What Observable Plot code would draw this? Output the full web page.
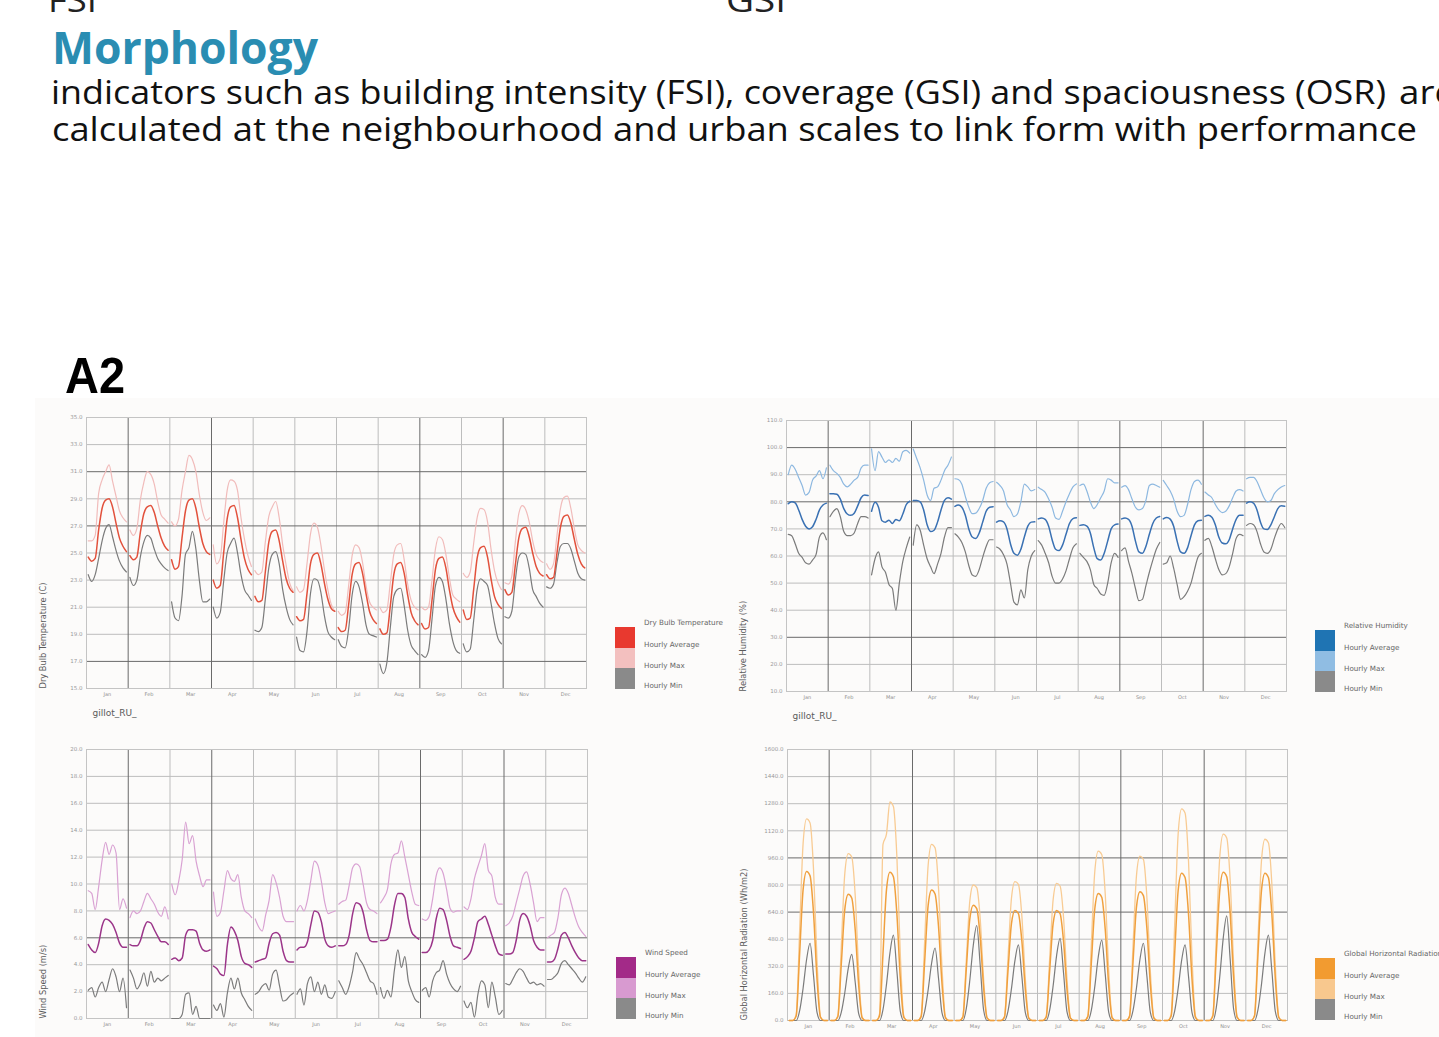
<!DOCTYPE html>
<html><head><meta charset="utf-8">
<script src="https://cdn.jsdelivr.net/npm/d3@7"></script>
<script src="https://cdn.jsdelivr.net/npm/@observablehq/plot@0.6"></script>
<style>
html,body{margin:0;padding:0;background:#fff}
#root{position:relative;width:1439px;height:1037px;overflow:hidden;background:#fff}
.abs{position:absolute}
.lg-sw{position:absolute;width:20px}
.lg-tx{position:absolute;font-family:"DejaVu Sans",sans-serif;font-size:7.2px;color:#666;white-space:nowrap;line-height:8px}
</style></head>
<body><div id="root"></div>
<script>
// ---------------- DATA ----------------
const MONTHS = ["Jan","Feb","Mar","Apr","May","Jun","Jul","Aug","Sep","Oct","Nov","Dec"];
const MONTH_EDGES = [0,1,2,3,4,5,6,7,8,9,10,11,12];
const DARK_MONTH_EDGES = [1,3,8,10];

const TEMP_TICKS = [15,17,19,21,23,25,27,29,31,33,35];
const TEMP_DARK = [31,27,17];
const HUM_TICKS = [10,20,30,40,50,60,70,80,90,100,110];
const HUM_DARK = [100,80,30];
const WIND_TICKS = [0,2,4,6,8,10,12,14,16,18,20];
const WIND_DARK = [6];
const RAD_TICKS = [0,160,320,480,640,800,960,1120,1280,1440,1600];
const RAD_DARK = [960,640];

// hourly profile per month (12 samples across each month)
const TEMP_AVG = [
 [24.7,24.4,24.6,26.7,28.3,28.9,29.0,28.4,27.2,26.1,25.5,25.1],
 [24.8,24.5,24.7,26.5,27.9,28.4,28.5,28.0,27.0,26.1,25.5,25.2],
 [24.5,23.8,24.0,26.1,28.1,28.9,29.0,28.3,26.9,25.7,25.1,24.9],
 [23.0,22.4,22.6,25.0,27.5,28.4,28.5,27.6,26.0,24.6,23.8,23.4],
 [21.8,21.4,21.5,23.6,25.8,26.6,26.7,25.9,24.4,23.1,22.4,22.1],
 [20.3,20.0,20.1,22.0,24.2,24.9,25.0,24.2,22.8,21.6,20.9,20.7],
 [19.5,19.2,19.3,21.2,23.4,24.2,24.3,23.5,22.0,20.7,20.1,19.8],
 [19.4,19.0,19.1,21.1,23.4,24.2,24.3,23.5,21.9,20.6,20.0,19.7],
 [19.8,19.4,19.5,21.5,23.8,24.6,24.7,23.9,22.3,21.0,20.3,19.9],
 [20.8,20.1,20.2,22.3,24.6,25.4,25.5,24.7,23.1,21.8,21.2,20.9],
 [22.3,21.9,22.1,24.1,26.1,26.8,26.9,26.2,25.0,24.0,23.5,23.3],
 [23.4,23.1,23.2,25.0,26.9,27.7,27.8,27.2,26.0,24.9,24.2,23.9]
];
const TEMP_MAX = [
 [25.9,25.9,26.3,29.4,30.4,31.0,31.5,30.3,29.2,28.1,27.6,27.3],
 [26.7,26.3,26.8,28.9,30.2,31.0,30.8,30.1,28.8,27.8,27.5,27.2],
 [27.3,27.0,27.5,29.6,31.0,32.2,31.9,31.0,29.3,28.0,27.4,27.6],
 [25.6,24.2,24.6,27.2,29.6,30.4,30.3,29.6,27.6,26.0,24.8,24.0],
 [23.7,23.4,23.6,25.8,27.7,28.4,28.8,27.6,25.6,24.1,22.8,22.2],
 [22.5,22.1,22.3,24.2,26.4,27.2,26.9,25.6,23.8,22.3,21.2,20.7],
 [20.7,20.4,20.6,22.6,24.8,25.6,25.4,24.3,22.6,21.4,21.0,20.8],
 [21.0,20.6,20.8,22.8,24.9,25.6,25.7,24.5,22.7,21.5,21.0,20.8],
 [21.0,20.8,21.0,23.0,25.3,26.2,26.0,24.9,23.2,21.9,21.6,21.4],
 [23.5,23.2,23.6,25.7,27.6,28.3,28.2,27.3,25.3,23.7,22.8,22.3],
 [22.8,22.7,23.3,25.8,27.9,28.5,28.2,27.3,25.9,24.9,24.5,24.3],
 [24.2,23.8,24.2,26.3,28.3,29.1,29.2,28.3,26.8,25.6,25.2,25.0]
];
const TEMP_MIN = [
 [23.4,22.9,23.4,24.6,25.9,26.8,27.1,26.2,25.2,24.4,23.9,23.6],
 [23.2,22.6,23.0,24.7,25.8,26.3,26.1,25.3,24.6,24.2,23.9,23.7],
 [21.4,20.2,20.0,21.8,24.9,25.4,26.6,25.3,23.0,21.4,21.4,21.6],
 [21.0,20.2,20.6,22.9,25.0,25.7,26.1,25.0,23.4,22.3,21.9,21.5],
 [19.3,19.2,19.5,21.6,23.9,24.9,25.1,24.2,22.3,21.0,20.1,19.7],
 [18.8,17.8,17.7,19.2,22.0,23.1,23.0,22.1,20.4,19.2,18.8,18.6],
 [18.6,18.1,18.0,19.4,21.9,22.9,22.5,21.3,19.7,19.0,18.9,18.8],
 [16.8,16.1,16.9,19.5,21.8,22.3,22.4,21.1,19.3,18.2,17.8,17.5],
 [17.5,17.3,17.8,20.1,22.6,23.2,22.9,21.6,19.8,18.5,17.8,17.6],
 [18.3,17.7,17.9,20.0,22.3,23.1,22.9,22.6,21.3,19.8,18.7,18.3],
 [20.3,20.2,20.7,23.0,24.7,25.0,24.9,23.9,22.3,21.8,21.3,21.0],
 [22.5,22.4,22.7,24.3,25.5,25.7,25.7,25.3,24.4,23.5,23.1,23.0]
];

const HUM_AVG = [
 [79.3,80.0,79.6,77.0,73.5,71.0,70.0,70.8,73.5,77.0,78.8,79.5],
 [83.0,83.0,82.8,81.0,77.5,75.5,75.0,75.8,78.5,81.5,82.5,82.3],
 [76.5,79.8,78.0,73.0,72.5,73.2,72.0,73.5,73.0,75.5,79.0,80.2],
 [80.5,80.5,80.0,77.0,71.5,69.0,69.5,72.5,77.0,80.5,81.5,81.0],
 [78.3,78.8,78.0,75.0,70.0,67.0,66.5,68.5,72.5,76.5,78.0,78.2],
 [72.5,73.0,72.6,70.0,64.5,61.0,60.3,62.5,67.0,71.0,72.5,72.6],
 [73.7,74.0,73.5,71.0,66.0,62.5,62.0,64.0,68.0,72.0,73.8,74.1],
 [71.3,71.5,71.0,68.5,63.0,59.0,58.5,61.0,65.5,70.0,71.5,71.8],
 [73.7,74.0,73.5,71.0,65.5,61.5,61.0,63.5,68.0,72.0,74.0,74.6],
 [73.7,74.2,73.6,71.0,65.5,61.5,61.0,63.0,67.5,71.5,73.0,73.2],
 [74.6,75.0,74.3,71.5,67.0,64.8,64.5,66.0,70.0,73.5,75.0,75.0],
 [79.5,80.0,79.5,77.0,72.5,70.0,69.8,71.5,74.5,77.5,78.5,78.4]
];
const HUM_MAX = [
 [90.0,93.5,92.0,89.0,86.0,82.5,83.5,88.0,89.5,91.5,88.5,92.5],
 [93.5,91.5,90.5,89.0,86.5,85.5,86.5,88.0,89.0,92.5,93.5,93.5],
 [99.5,91.5,98.5,96.5,94.5,95.5,94.5,96.0,95.0,98.5,99.0,98.0],
 [99.5,96.0,92.5,88.0,82.5,80.5,85.0,85.5,88.0,91.5,93.5,96.5],
 [88.5,88.2,86.5,82.0,78.0,75.6,75.8,77.5,80.5,85.0,87.0,87.5],
 [87.2,86.0,84.0,79.0,77.0,74.5,75.5,80.0,86.5,85.5,84.0,84.5],
 [85.4,84.5,83.5,81.0,78.0,74.0,73.5,76.5,80.0,83.0,85.5,86.6],
 [86.0,86.5,84.0,80.0,77.5,79.0,81.5,84.0,88.5,88.0,87.0,87.0],
 [85.4,86.0,84.5,81.0,78.0,77.0,77.5,80.5,86.0,86.5,86.0,85.4],
 [87.9,86.0,84.0,81.0,76.5,74.5,75.0,79.0,84.5,87.5,88.0,86.5],
 [83.6,82.5,81.5,79.0,77.0,76.0,76.5,78.5,81.5,84.0,84.5,84.0],
 [88.5,89.0,89.0,87.5,84.5,81.5,80.0,80.5,83.0,84.5,85.5,86.0]
];
const HUM_MIN = [
 [68.0,67.5,64.5,61.0,59.5,57.5,57.0,58.5,60.5,67.0,68.5,66.0],
 [74.5,76.5,77.5,74.5,69.0,67.5,67.5,68.5,72.0,74.5,74.5,74.0],
 [53.0,59.0,61.5,56.0,54.0,49.5,48.0,40.0,50.0,58.0,63.0,67.0],
 [64.0,71.5,69.5,64.0,59.0,56.0,53.5,57.0,61.0,67.0,70.5,70.5],
 [68.2,67.0,65.0,61.5,56.5,53.0,52.5,55.0,59.5,63.5,66.0,66.0],
 [63.3,62.5,60.5,57.0,50.0,43.0,42.0,47.5,44.5,55.0,60.0,62.0],
 [65.7,64.0,61.0,57.5,52.5,50.0,50.0,51.5,54.5,59.0,63.0,64.5],
 [61.0,59.5,58.0,55.0,49.5,48.0,46.0,45.5,50.0,57.5,61.0,59.5],
 [62.0,63.0,58.0,53.5,48.0,43.5,44.0,49.0,54.0,58.5,62.5,65.0],
 [57.0,57.5,60.0,55.5,49.5,44.0,45.0,47.0,50.0,55.0,59.5,61.0],
 [65.8,66.5,63.5,59.0,55.0,53.0,53.5,56.0,61.0,66.5,68.0,67.5],
 [71.3,72.0,71.5,69.0,64.5,61.5,61.0,62.5,66.5,70.0,72.0,70.5]
];

const WIND_AVG = [
 [5.5,5.1,4.9,5.6,6.9,7.4,7.3,7.0,6.4,5.6,5.3,5.3],
 [5.5,5.4,5.4,5.8,6.7,7.2,7.1,6.6,6.1,5.7,5.7,5.5],
 [4.4,4.5,4.3,4.5,6.2,6.6,6.6,6.5,5.6,5.1,5.0,5.1],
 [3.9,3.7,3.3,3.2,5.5,6.8,6.5,5.8,4.6,4.1,4.0,3.8],
 [4.2,4.3,4.4,4.5,5.6,6.3,6.4,6.2,5.0,4.3,4.2,4.2],
 [5.1,5.3,5.3,5.7,7.0,8.0,7.9,7.2,5.9,5.4,5.3,5.4],
 [5.4,5.4,5.5,6.2,7.8,8.6,8.5,7.9,6.6,5.8,5.7,5.7],
 [5.8,5.8,5.9,6.8,8.4,9.3,9.3,9.0,7.4,6.4,6.1,5.9],
 [4.9,4.9,5.1,5.8,7.4,8.2,8.1,7.3,6.1,5.4,5.3,5.2],
 [4.4,4.6,5.0,6.0,7.2,7.4,7.6,7.0,6.2,5.4,4.8,4.7],
 [4.8,4.8,4.9,5.8,7.3,7.8,7.6,6.9,5.8,5.3,5.1,5.1],
 [4.2,4.2,4.4,5.2,6.2,6.4,6.0,5.4,4.9,4.5,4.3,4.3]
];
const WIND_MAX = [
 [9.5,9.3,8.1,9.8,11.8,13.1,12.2,12.9,12.3,8.1,8.9,8.2],
 [7.5,8.0,7.8,8.0,8.7,9.3,8.9,8.5,7.9,7.6,8.3,7.4],
 [10.0,9.2,10.2,11.8,14.6,13.0,13.6,11.7,10.6,9.8,10.3,10.3],
 [9.4,7.6,7.9,9.5,11.0,10.4,10.2,10.7,9.0,8.0,7.8,7.5],
 [7.4,6.8,6.5,7.7,8.8,10.7,10.1,9.0,7.6,7.2,7.2,7.2],
 [8.0,8.4,8.0,8.8,10.3,11.7,11.4,10.2,8.6,7.8,7.9,8.0],
 [8.5,8.7,8.8,9.9,11.2,11.5,11.3,10.0,8.6,8.1,8.0,7.8],
 [8.6,9.0,9.6,11.5,12.2,12.3,13.2,12.0,10.7,9.4,8.5,8.4],
 [7.4,7.3,7.6,8.9,10.6,11.2,10.8,9.6,8.2,7.9,8.0,8.0],
 [8.3,8.1,8.9,10.4,11.3,12.1,13.0,11.0,10.6,9.0,8.5,8.5],
 [6.9,7.1,7.6,8.6,9.6,10.6,10.9,10.0,8.6,7.2,7.5,7.5],
 [6.0,6.2,6.4,7.5,9.2,9.7,9.3,8.4,7.5,6.8,6.4,6.1]
];
const WIND_MIN = [
 [2.1,2.3,1.6,2.3,2.7,2.0,2.9,3.7,3.1,2.0,3.0,0.8],
 [3.6,3.0,2.2,2.6,3.4,2.4,3.5,2.7,3.0,2.8,3.0,3.2],
 [0.0,0.0,0.0,0.3,1.8,1.9,0.3,0.9,0.0,0.0,0.0,0.0],
 [1.0,0.6,1.1,0.1,1.9,3.0,2.2,3.0,1.9,1.4,0.9,0.6],
 [1.8,2.0,2.4,2.6,2.1,3.3,3.6,2.4,1.3,1.4,1.7,1.9],
 [1.8,2.2,1.0,2.6,3.1,2.0,2.7,1.8,2.5,1.6,1.5,2.0],
 [2.8,2.3,1.8,2.4,3.5,4.9,4.4,4.0,3.4,2.8,2.6,1.8],
 [2.3,1.5,2.1,1.6,3.6,5.1,3.8,4.6,2.8,2.0,1.4,1.2],
 [2.1,2.3,1.6,2.8,3.4,3.6,4.3,3.3,2.6,2.2,2.0,2.4],
 [1.3,0.8,1.2,0.1,1.8,2.8,2.5,0.8,2.7,1.6,0.3,0.6],
 [2.6,2.5,2.9,3.4,3.7,3.5,3.0,2.6,2.7,2.5,2.6,2.4],
 [2.9,2.9,3.1,3.4,4.1,4.3,4.0,3.7,3.4,3.0,2.7,3.1]
];

const RAD_AVG = [
 [0,0,26,396,774,880,854,634,246,18,0,0],
 [0,0,22,335,656,745,723,536,209,15,0,0],
 [0,0,26,394,770,875,849,630,245,18,0,0],
 [0,0,23,347,678,770,747,554,216,15,0,0],
 [0,0,20,306,598,680,660,490,190,14,0,0],
 [0,0,20,293,572,650,631,468,182,13,0,0],
 [0,0,20,293,572,650,631,468,182,13,0,0],
 [0,0,23,338,660,750,728,540,210,15,0,0],
 [0,0,23,342,669,760,737,547,213,15,0,0],
 [0,0,26,392,766,870,844,626,244,17,0,0],
 [0,0,26,394,770,875,849,630,245,18,0,0],
 [0,0,26,392,766,870,844,626,244,17,0,0]
];
const RAD_MAX = [
 [0,0,36,535,1047,1190,1166,892,357,24,0,0],
 [0,0,30,443,867,985,965,739,296,20,0,0],
 [0,0,39,1040,1100,1290,1264,968,387,26,0,0],
 [0,0,31,468,915,1040,1019,780,312,21,0,0],
 [0,0,24,360,704,800,784,600,240,16,0,0],
 [0,0,25,369,722,820,804,615,246,16,0,0],
 [0,0,24,365,713,810,794,608,243,16,0,0],
 [0,0,30,450,880,1000,980,750,300,20,0,0],
 [0,0,29,437,854,970,951,728,291,19,0,0],
 [0,0,38,563,1100,1250,1225,938,375,25,0,0],
 [0,0,33,495,968,1100,1078,825,330,22,0,0],
 [0,0,32,482,942,1070,1049,803,321,21,0,0]
];
const RAD_MIN = [
 [0,0,0,58,192,360,456,264,48,0,0,0],
 [0,0,0,49,164,308,390,226,41,0,0,0],
 [0,0,0,64,212,398,504,292,53,0,0,0],
 [0,0,0,54,180,338,428,248,45,0,0,0],
 [0,0,0,71,236,443,561,325,59,0,0,0],
 [0,0,0,56,188,353,447,259,47,0,0,0],
 [0,0,0,61,204,383,485,281,51,0,0,0],
 [0,0,0,60,200,375,475,275,50,0,0,0],
 [0,0,0,58,192,360,456,264,48,0,0,0],
 [0,0,0,56,188,353,447,259,47,0,0,0],
 [0,0,0,78,260,488,618,358,65,0,0,0],
 [0,0,0,64,212,398,504,292,53,0,0,0]
];

const LEGEND_ITEMS = ["Hourly Average","Hourly Max","Hourly Min"];
const SITE = "gillot_RU_";

// ---------------- PANELS ----------------
const PANELS = [
 {left:86, top:417, w:500, h:271, domain:[15,35], ticks:TEMP_TICKS, dark:TEMP_DARK,
  label:"Dry Bulb Temperature (C)", site:true, title:"Dry Bulb Temperature",
  series:[["max",TEMP_MAX,"#f1bcbb",1.2],["min",TEMP_MIN,"#7b7b7b",1.2],["avg",TEMP_AVG,"#e2513c",1.5]],
  swatch:["#e8392f","#f3c0bf","#8a8a8a"], lg:{x:615,y:627}},
 {left:786, top:420, w:500, h:271, domain:[10,110], ticks:HUM_TICKS, dark:HUM_DARK,
  label:"Relative Humidity (%)", site:true, title:"Relative Humidity",
  series:[["max",HUM_MAX,"#8db8e0",1.2],["min",HUM_MIN,"#7b7b7b",1.2],["avg",HUM_AVG,"#3a71b3",1.5]],
  swatch:["#1f74b3","#90bde3","#8a8a8a"], lg:{x:1315,y:630}},
 {left:86, top:749, w:501, h:269, domain:[0,20], ticks:WIND_TICKS, dark:WIND_DARK,
  label:"Wind Speed (m/s)", site:false, title:"Wind Speed",
  series:[["max",WIND_MAX,"#d9a2d3",1.2],["min",WIND_MIN,"#7b7b7b",1.2],["avg",WIND_AVG,"#9b3589",1.5]],
  swatch:["#a32a88","#d89ad0","#8a8a8a"], lg:{x:616,y:957}},
 {left:787, top:749, w:500, h:271, domain:[0,1600], ticks:RAD_TICKS, dark:RAD_DARK,
  label:"Global Horizontal Radiation (Wh/m2)", site:false, title:"Global Horizontal Radiation",
  series:[["max",RAD_MAX,"#f8cb93",1.3],["min",RAD_MIN,"#7b7b7b",1.2],["avg",RAD_AVG,"#f0a03e",1.5]],
  swatch:["#f29b30","#f8c88e","#8a8a8a"], lg:{x:1315,y:958}}
];

const root = document.getElementById("root");

// chart area background
const bg = document.createElement("div");
bg.className = "abs";
Object.assign(bg.style,{left:"35px",top:"398px",width:"1404px",height:"639px",background:"#fcfbfa"});
root.appendChild(bg);

// header texts
const NS = "http://www.w3.org/2000/svg";
const head = document.createElementNS(NS,"svg");
head.setAttribute("width",1439); head.setAttribute("height",400);
head.style.position="absolute"; head.style.left="0"; head.style.top="0";
function htext(str, attrs){
  const t = document.createElementNS(NS,"text");
  for (const k in attrs) t.setAttribute(k, attrs[k]);
  t.textContent = str; head.appendChild(t);
}
const bodyFont = "'Open Sans', sans-serif";
htext("FSI",{x:48,y:12,"font-family":bodyFont,"font-size":33,fill:"#222",textLength:49,lengthAdjust:"spacingAndGlyphs"});
htext("GSI",{x:726,y:12,"font-family":bodyFont,"font-size":33,fill:"#222",textLength:60,lengthAdjust:"spacingAndGlyphs"});
htext("Morphology",{x:52,y:64,"font-family":bodyFont,"font-weight":"bold","font-size":44,fill:"#2a8db2",textLength:266,lengthAdjust:"spacingAndGlyphs"});
htext("indicators such as building intensity (FSI), coverage (GSI) and spaciousness (OSR)",{x:51,y:104,"font-family":bodyFont,"font-size":33,fill:"#111",textLength:1335,lengthAdjust:"spacingAndGlyphs"});
htext("are",{x:1399,y:104,"font-family":bodyFont,"font-size":33,fill:"#111",textLength:56,lengthAdjust:"spacingAndGlyphs"});
htext("calculated at the neighbourhood and urban scales to link form with performance",{x:52,y:141,"font-family":bodyFont,"font-size":33,fill:"#111",textLength:1365,lengthAdjust:"spacingAndGlyphs"});
htext("A2",{x:65,y:393,"font-family":"'Liberation Sans', Arial, sans-serif","font-weight":"bold","font-size":50,fill:"#000",textLength:60,lengthAdjust:"spacingAndGlyphs"});
root.appendChild(head);

const ML = 50, MR = 6, MT = 6, MB = 36;

for (const P of PANELS) {
  const rows = [];
  for (const [key, arr] of P.series) {
    arr.forEach((vals, m) => vals.forEach((v, i) => rows.push({key, m, x: m + (i + 0.5) / vals.length, y: v})));
  }
  const marks = [
    Plot.ruleY(P.ticks.filter(d => !P.dark.includes(d)), {stroke: "#bdbdbd", strokeWidth: 1}),
    Plot.ruleX(MONTH_EDGES.filter(d => !DARK_MONTH_EDGES.includes(d)), {stroke: "#bdbdbd", strokeWidth: 1}),
    Plot.ruleY(P.dark, {stroke: "#6a6a6a", strokeWidth: 1}),
    Plot.ruleX(DARK_MONTH_EDGES, {stroke: "#6a6a6a", strokeWidth: 1}),
    Plot.frame({stroke: "#c4c4c4"})
  ];
  for (const [key, , color, sw] of P.series) {
    marks.push(Plot.line(rows.filter(r => r.key === key), {x: "x", y: "y", z: "m", stroke: color, strokeWidth: sw, curve: "monotone-x"}));
  }
  marks.push(
    Plot.axisY(P.ticks, {tickFormat: d3.format(".1f"), tickSize: 0, tickPadding: 4, fontSize: 5.5, fill: "#9a9a9a", label: null}),
    Plot.text(MONTHS, {x: (d, i) => i + 0.5, frameAnchor: "bottom", dy: 7, fontSize: 5, fill: "#8f8f8f"}),
    Plot.text([P.label], {frameAnchor: "bottom-left", rotate: -90, textAnchor: "start", dx: -41, fontSize: 8.3, fill: "#5a5a5a"})
  );
  if (P.site) marks.push(Plot.text([SITE], {frameAnchor: "bottom-left", textAnchor: "start", dx: 6, dy: 27, fontSize: 9, fill: "#5a5a5a"}));

  const svg = Plot.plot({
    width: P.w + ML + MR, height: P.h + MT + MB,
    marginLeft: ML, marginRight: MR, marginTop: MT, marginBottom: MB,
    x: {domain: [0, 12], axis: null},
    y: {domain: P.domain, axis: null},
    style: {background: "transparent", overflow: "visible", fontFamily: "'DejaVu Sans', sans-serif"},
    marks
  });
  svg.style.position = "absolute";
  svg.style.left = (P.left - ML) + "px";
  svg.style.top = (P.top - MT) + "px";
  root.appendChild(svg);

  // legend
  const {x, y} = P.lg;
  P.swatch.forEach((c, k) => {
    const s = document.createElement("div");
    s.className = "lg-sw";
    Object.assign(s.style, {left: x + "px", top: (y + k * 20.7) + "px", height: "20.7px", background: c});
    root.appendChild(s);
  });
  const labels = [P.title, ...LEGEND_ITEMS];
  const offs = [-4, 18, 39, 59];
  labels.forEach((t, k) => {
    const d = document.createElement("div");
    d.className = "lg-tx";
    d.textContent = t;
    Object.assign(d.style, {left: (x + 29) + "px", top: (y + offs[k] - 4) + "px"});
    root.appendChild(d);
  });
}
</script></body></html>
